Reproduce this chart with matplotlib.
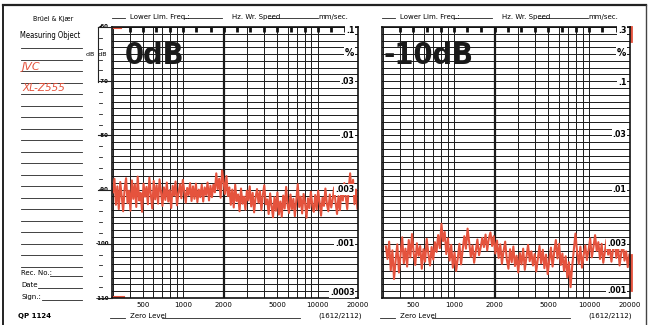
import numpy as np
from matplotlib import pyplot as plt
from matplotlib import transforms

left_db = [-90.5, -88.0, -92.8, -89.4, -93.6, -88.6, -91.2, -94.0, -89.8, -87.9,
           -92.5, -90.2, -93.9, -88.3, -91.7, -89.0, -93.2, -87.6, -92.0, -90.6,
           -94.1, -88.9, -91.3, -89.5, -92.7, -87.8, -90.9, -93.5, -88.4, -91.8,
           -89.2, -92.6, -88.1, -90.4, -93.0, -89.6, -91.9, -88.7, -92.2, -90.1,
           -93.4, -89.3, -91.1, -88.5, -92.9, -90.7, -89.0, -91.6, -88.2, -90.3,
           -92.4, -89.7, -91.0, -88.8, -92.1, -89.4, -91.7, -88.9, -92.3, -90.0,
           -91.4, -89.1, -92.2, -89.6, -91.0, -88.7, -92.0, -89.3,
           -91.4, -89.1, -90.5, -87.0, -89.9, -88.0, -91.5, -86.5,
           -88.4, -90.8, -87.5, -91.2, -89.6, -92.8, -90.0, -93.3, -89.1, -92.1,
           -90.9, -94.0, -89.8, -92.6, -91.3, -93.7, -90.2, -92.0, -89.4, -93.1,
           -90.6, -94.2, -91.5, -89.9, -92.4, -90.3, -93.8, -91.0, -89.2, -92.7,
           -91.8, -94.5, -90.7, -93.0, -95.1, -91.4, -93.9, -90.5, -94.6, -92.2,
           -95.0, -91.1, -93.5, -89.5, -92.8, -94.3, -90.9, -93.6, -91.7, -94.9,
           -92.0, -89.0, -93.2, -91.3, -94.4, -90.8, -92.5, -95.2, -91.6, -93.4,
           -90.4, -92.9, -94.1, -91.0, -93.7, -90.2, -92.3, -94.8, -91.5, -93.0,
           -89.8, -92.6, -94.0, -90.9, -93.3, -91.8, -89.6, -92.4, -94.5, -91.2,
           -93.8, -90.1, -92.0, -88.8, -91.4, -93.6, -89.9, -87.0, -90.8, -88.2,
           -92.7, -90.0, -93.5]
right_db = [-100.5, -102.8, -99.6, -104.9, -101.2, -106.5, -103.0, -100.1, -105.3, -102.0,
            -98.8, -103.6, -100.9, -104.2, -99.3, -102.5, -98.2, -101.7, -103.9, -99.9,
            -102.2, -100.4, -104.6, -101.0, -103.3, -99.1, -101.8, -104.0, -100.6, -102.9,
            -99.7, -101.5, -98.4, -100.8, -96.3, -99.5, -97.8, -101.9, -99.0, -103.1,
            -100.2, -104.4, -101.6, -105.0, -102.7, -100.0, -103.8, -101.1, -98.6, -100.9,
            -97.2, -99.8, -102.4, -100.3, -103.5, -101.4, -99.2, -102.1, -100.7, -98.9,
            -100.6, -98.3, -101.2, -99.0, -97.9, -100.4, -98.6, -101.8, -99.4, -102.6,
            -100.1, -103.7, -101.3, -99.6, -102.9, -104.6, -101.0, -103.4, -100.5, -104.1,
            -102.2, -105.3, -101.7, -103.8, -100.9, -104.8, -102.5, -100.2, -103.2, -101.4,
            -104.0, -101.9, -105.1, -102.8, -100.4, -103.6, -101.1, -104.5, -102.0, -105.6,
            -103.0, -100.7, -104.2, -101.5, -99.3, -102.7, -100.0, -103.9, -101.8, -105.0,
            -102.3, -106.2, -103.4, -108.0, -104.1, -101.0, -98.1, -101.6, -103.7, -100.5,
            -104.4, -102.1, -100.3, -103.0, -101.2, -99.0, -102.5, -100.6, -98.4, -101.3,
            -99.7, -102.8, -100.0, -103.5, -101.5, -99.2, -102.0, -100.8, -103.3, -101.0,
            -99.5, -102.6, -100.2, -104.0, -101.7, -99.8, -103.1, -101.4, -104.3, -102.0]
left_range = (300, 19800)
right_range = (315, 19800)

freq_labels = [500, 1000, 2000, 5000, 10000, 20000]
grid_freqs = [300, 400, 500, 600, 700, 800, 900, 1000, 2000, 3000, 4000, 5000,
              6000, 7000, 8000, 9000, 10000, 20000]
third_oct = [400, 500, 630, 800, 1000, 1250, 1600, 2000, 2500, 3150, 4000, 5000,
             6300, 8000, 10000, 12500, 16000]
db_ticks = [-110, -100, -90, -80, -70, -60]
left_pct = ['.1', '.03', '.01', '.003', '.001', '.0003']
left_pct_db = [-60.6, -70.0, -80.0, -90.0, -100.0, -109.0]
right_pct = ['.3', '.1', '.03', '.01', '.003', '.001']
right_pct_db = [-60.6, -70.2, -79.8, -90.0, -100.0, -108.7]

red = '#e5533d'
W, H = 649, 325

fig = plt.figure(figsize=(6.49, 3.25), dpi=100)
fig.patch.set_facecolor('white')


def fx(x):
    return x / W


def fy(y):
    return 1 - y / H


def line(x0, x1, y, lw=0.6, color='#222222'):
    fig.add_artist(plt.Line2D([fx(x0), fx(x1)], [fy(y), fy(y)], lw=lw, color=color))


# cadre
fig.add_artist(plt.Line2D([fx(3), fx(646)], [fy(5), fy(5)], lw=1.6, color='#222222'))
fig.add_artist(plt.Line2D([fx(3), fx(3)], [fy(5), fy(325)], lw=1.4, color='#222222'))
fig.add_artist(plt.Line2D([fx(646), fx(646)], [fy(5), fy(325)], lw=1.0, color='#444444'))

# colonne de gauche
fig.text(fx(53), fy(19), 'Brüel & Kjær', fontsize=5, ha='center', va='center', stretch='condensed')
fig.text(fx(50), fy(35), 'Measuring Object', fontsize=5.5, ha='center', va='center', stretch='condensed')
for k in range(20):
    yy = 48 + 11.5 * k
    if yy < 268:
        line(21, 82, yy)
fig.text(fx(22), fy(67), 'JVC', fontsize=8, color=red, ha='left', va='center', style='italic')
fig.text(fx(22), fy(88), 'XL-Z555', fontsize=7.5, color=red, ha='left', va='center', style='italic')
fig.text(fx(21), fy(273), 'Rec. No.:', fontsize=5, ha='left', va='center')
line(50, 82, 276)
fig.text(fx(21), fy(285), 'Date', fontsize=5, ha='left', va='center')
line(38, 82, 288)
fig.text(fx(21), fy(297), 'Sign.:', fontsize=5, ha='left', va='center')
line(42, 82, 300)
fig.text(fx(18), fy(316), 'QP 1124', fontsize=5, ha='left', va='center', weight='bold')


def chart(x0, x1, values, frange, big, big_x, pct, pct_db):
    ax = fig.add_axes([fx(x0), fy(298), fx(x1) - fx(x0), (298 - 27) / H])
    ax.set_xscale('log')
    ax.set_xlim(295, 20000)
    ax.set_ylim(-110, -60)
    ax.set_xticks(grid_freqs, minor=True)
    ax.set_xticks(freq_labels, [str(f) for f in freq_labels])
    ax.set_yticks(np.arange(-110, -59.9, 1.25), minor=True)
    ax.set_yticks(db_ticks, [])
    ax.xaxis.set_minor_formatter(plt.NullFormatter())
    ax.grid(which='both', color='#1a1a1a', lw=0.7)
    ax.axvline(2000, color='#1a1a1a', lw=1.6)
    ax.tick_params(which='both', length=0, labelsize=5, pad=3)
    for s in ax.spines.values():
        s.set_color('#111111')
        s.set_linewidth(1.2)
    ax.vlines(third_oct, -61.0, -60, color='#111111', lw=2.0)
    f = np.geomspace(frange[0], frange[1], len(values))
    ax.plot(f, values, color=red, lw=1.5)
    ax.text(big_x, 0.95, big, transform=ax.transAxes, fontsize=22, weight='bold',
            stretch='condensed', va='top', ha='left', color='#1a1a1a')
    tr = transforms.blended_transform_factory(ax.transAxes, ax.transData)
    for lab, d in zip(pct, pct_db):
        ax.text(0.985, d, lab, transform=tr, ha='right', va='center', fontsize=6.3,
                weight='bold', stretch='condensed',
                bbox=dict(facecolor='white', edgecolor='none', pad=0.6))
    ax.text(0.985, -64.8, '%', transform=tr, ha='right', va='center', fontsize=7.5,
            weight='bold', stretch='condensed',
            bbox=dict(facecolor='white', edgecolor='none', pad=0.6))
    return ax


axl = chart(112, 358, left_db, left_range, '0dB', 0.05, left_pct, left_pct_db)
axr = chart(382, 630, right_db, right_range, '-10dB', 0.005, right_pct, right_pct_db)

# marques du stylo
axl.plot([0, 0.035], [0.995, 0.995], transform=axl.transAxes, color=red, lw=1.5)
axl.plot([0, 0.05], [0.003, 0.003], transform=axl.transAxes, color=red, lw=1.5)
axr.plot([1.006, 1.006], [0.95, 1.0], transform=axr.transAxes, color=red, lw=2, clip_on=False)
axr.plot([1.006, 1.006], [0.03, 0.16], transform=axr.transAxes, color=red, lw=2, clip_on=False)

# échelle dB à gauche
for d in db_ticks:
    axl.text(-0.012, d, str(d), transform=transforms.blended_transform_factory(axl.transAxes, axl.transData),
             ha='right', va='center', fontsize=4, weight='bold')
    fig.add_artist(plt.Line2D([fx(98), fx(112)], [fy(27 + (-60 - d) * 5.42)] * 2, lw=0.8, color='#222222'))
fig.text(fx(96), fy(54), 'dB  dB', fontsize=4.5, ha='center', va='center')
fig.add_artist(plt.Line2D([fx(98), fx(98)], [fy(27), fy(82)], lw=0.8, color='#222222'))
for k in range(1, 25):
    yy = 27 + k * 10.84
    line(99, 102, yy, lw=0.6)

# en-têtes et pieds de page
for off in (0, 270):
    line(112 + off, 125 + off, 18)
    fig.text(fx(130 + off), fy(17), 'Lower Lim. Freq.:', fontsize=5, va='center')
    line(184 + off, 222 + off, 18)
    fig.text(fx(232 + off), fy(17), 'Hz. Wr. Speed', fontsize=5, va='center')
    line(268 + off, 318 + off, 18)
    fig.text(fx(318 + off), fy(17), 'mm/sec.', fontsize=5, va='center')
    line(110 + off, 125 + off, 318)
    fig.text(fx(130 + off), fy(316), 'Zero Level', fontsize=5, va='center')
    line(162 + off, 300 + off, 318)
    fig.text(fx(318 + off), fy(316), '(1612/2112)', fontsize=5, va='center')

plt.savefig('out.png', dpi=100, facecolor='white')
